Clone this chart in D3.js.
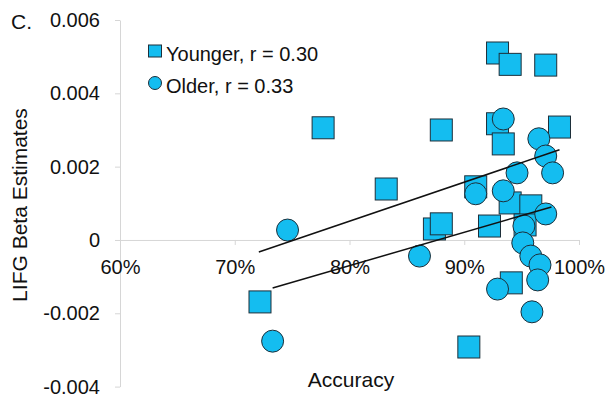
<!DOCTYPE html>
<html>
<head>
<meta charset="utf-8">
<script src="https://cdn.jsdelivr.net/npm/d3@7"></script>
<style>
  html, body { margin: 0; padding: 0; background: #fff; }
  svg { display: block; font-family: Arial, "Liberation Sans", sans-serif; }
</style>
</head>
<body>
<svg id="chart" width="605" height="398"></svg>
<script>
// ---- data ----
const xTicks = [60, 70, 80, 90, 100];
const yTicks = [-0.004, -0.002, 0, 0.002, 0.004, 0.006];
const yTickLabels = ["-0.004", "-0.002", "0", "0.002", "0.004", "0.006"];

const youngerAccuracy = [72.2, 77.7, 83.2, 88.0, 87.4, 88.0, 90.4, 91.0, 92.2, 92.9, 94.0, 97.1, 92.9, 93.4, 98.3, 94.0, 95.8, 95.3, 94.1];
const youngerBeta     = [-0.00169, 0.00306, 0.00139, 0.00300, 0.00030, 0.00044, -0.00292, 0.00145, 0.00038, 0.00510, 0.00479, 0.00477, 0.00317, 0.00262, 0.00308, 0.00101, 0.00093, 0.00041, -0.00117];

const olderAccuracy = [74.6, 73.3, 86.1, 91.0, 93.4, 96.5, 97.1, 97.7, 94.6, 93.4, 97.1, 95.2, 95.1, 95.8, 96.6, 96.4, 92.9, 95.9];
const olderBeta     = [0.00027, -0.00276, -0.00044, 0.00126, 0.00330, 0.00276, 0.00229, 0.00183, 0.00183, 0.00134, 0.00071, 0.00038, -0.00008, -0.00044, -0.00068, -0.00109, -0.00134, -0.00196];

// fitted trend lines (end points)
const youngerFitX = [72.1, 98.3];
const youngerFitY = [-0.00033, 0.00246];
const olderFitX = [73.3, 97.6];
const olderFitY = [-0.00131, 0.00090];

const legendLabels = ["Younger, r = 0.30", "Older, r = 0.33"];

// ---- drawing ----
const svg = d3.select("#chart");
const fill = "#14bdf0";
const edge = "#1d2f3a";
const axisColor = "#d6d6d6";

const x = d3.scaleLinear().domain([60, 100]).range([120, 579]);
const y = d3.scaleLinear().domain([-0.004, 0.006]).range([386.6, 20]);

// y axis
const yAxis = svg.append("g")
  .attr("transform", "translate(120,0)")
  .call(d3.axisLeft(y).tickValues(yTicks).tickSize(5).tickSizeOuter(0).tickPadding(15)
    .tickFormat((d, i) => yTickLabels[i]));
yAxis.selectAll("path, line").attr("stroke", axisColor);
yAxis.selectAll("text").attr("font-size", 20).attr("fill", "#111").attr("font-family", "Arial, 'Liberation Sans', sans-serif");

// x axis at zero
const xAxis = svg.append("g")
  .attr("transform", `translate(0,${y(0)})`)
  .call(d3.axisBottom(x).tickValues(xTicks).tickSize(5).tickSizeOuter(0).tickPadding(15)
    .tickFormat(d => d + "%"));
xAxis.selectAll("path, line").attr("stroke", axisColor);
xAxis.selectAll("text").attr("font-size", 20).attr("fill", "#111").attr("font-family", "Arial, 'Liberation Sans', sans-serif");

// squares (younger)
const sq = 22;
svg.append("g").selectAll("rect")
  .data(d3.range(youngerAccuracy.length))
  .join("rect")
  .attr("x", i => x(youngerAccuracy[i]) - sq / 2)
  .attr("y", i => y(youngerBeta[i]) - sq / 2)
  .attr("width", sq).attr("height", sq)
  .attr("fill", fill).attr("stroke", edge).attr("stroke-width", 1);

// circles (older)
svg.append("g").selectAll("circle")
  .data(d3.range(olderAccuracy.length))
  .join("circle")
  .attr("cx", i => x(olderAccuracy[i]))
  .attr("cy", i => y(olderBeta[i]))
  .attr("r", 11)
  .attr("fill", fill).attr("stroke", edge).attr("stroke-width", 1);

// trend lines
const line = d3.line().x(d => x(d[0])).y(d => y(d[1]));
svg.append("path")
  .datum(youngerFitX.map((v, i) => [v, youngerFitY[i]]))
  .attr("d", line).attr("fill", "none").attr("stroke", "#111").attr("stroke-width", 1.5);
svg.append("path")
  .datum(olderFitX.map((v, i) => [v, olderFitY[i]]))
  .attr("d", line).attr("fill", "none").attr("stroke", "#111").attr("stroke-width", 1.5);

// legend
const lg = svg.append("g");
lg.append("rect").attr("x", 148.5).attr("y", 45).attr("width", 13).attr("height", 12)
  .attr("fill", fill).attr("stroke", edge).attr("stroke-width", 1);
lg.append("circle").attr("cx", 155).attr("cy", 83).attr("r", 6.5)
  .attr("fill", fill).attr("stroke", edge).attr("stroke-width", 1);
lg.selectAll("text").data(legendLabels).join("text")
  .attr("x", 166).attr("y", (d, i) => 61 + i * 32)
  .attr("font-size", 20).attr("fill", "#111")
  .text(d => d);

// panel letter
svg.append("text").attr("x", 11).attr("y", 29).attr("font-size", 21).attr("fill", "#111").text("C.");

// axis titles
svg.append("text")
  .attr("transform", "translate(27,205) rotate(-90)")
  .attr("text-anchor", "middle").attr("font-size", 21).attr("fill", "#111")
  .text("LIFG Beta Estimates");
svg.append("text")
  .attr("x", 351).attr("y", 387)
  .attr("text-anchor", "middle").attr("font-size", 21).attr("fill", "#111")
  .text("Accuracy");
</script>
</body>
</html>
